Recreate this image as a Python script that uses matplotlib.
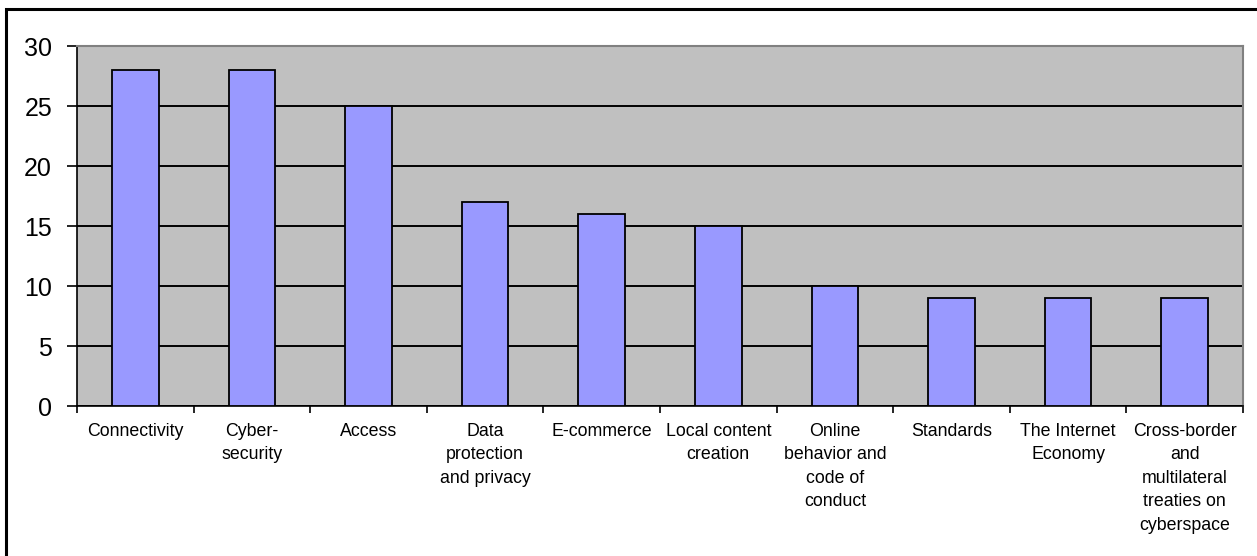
import matplotlib.pyplot as plt
from matplotlib.patches import Rectangle
import numpy as np

plt.rcParams['font.family'] = ['Liberation Sans', 'DejaVu Sans']

categories = ["Connectivity", "Cyber-\nsecurity", "Access", "Data\nprotection\nand privacy",
              "E-commerce", "Local content\ncreation", "Online\nbehavior and\ncode of\nconduct",
              "Standards", "The Internet\nEconomy",
              "Cross-border\nand\nmultilateral\ntreaties on\ncyberspace"]
values = [28, 28, 25, 17, 16, 15, 10, 9, 9, 9]

fig = plt.figure(figsize=(12.57, 5.56), dpi=100)
ax = fig.add_axes([77/1257, 1 - 406/556, (1243 - 77)/1257, (406 - 46)/556])

# outer frame of the chart object
fig.patches.append(Rectangle((6/1257, -0.01), 1.1, 1 - 8.5/556 + 0.01, transform=fig.transFigure,
                             fill=False, edgecolor='black', linewidth=2.2))

x = np.arange(len(categories))
ax.set_facecolor('#C0C0C0')
ax.set_axisbelow(True)
ax.yaxis.grid(True, color='black', linewidth=1.4)
ax.bar(x, values, width=0.40, color='#9999FF', edgecolor='black', linewidth=1.3, zorder=3)

ax.set_xlim(-0.5, len(categories) - 0.5)
ax.set_ylim(0, 30)
ax.set_yticks(range(0, 31, 5))
ax.tick_params(axis='y', labelsize=18, length=7, width=1.2, direction='out', pad=11)

ax.set_xticks(x)
ax.set_xticklabels(categories, fontsize=12.8, linespacing=1.5)
ax.tick_params(axis='x', which='major', length=0, pad=12)
ax.set_xticks(np.arange(-0.5, len(categories), 1.0), minor=True)
ax.tick_params(axis='x', which='minor', length=5, width=1.2, direction='out')

for s in ['top', 'right']:
    ax.spines[s].set_color('#808080')
    ax.spines[s].set_linewidth(1.5)
for s in ['left', 'bottom']:
    ax.spines[s].set_color('black')
    ax.spines[s].set_linewidth(1.2)

plt.savefig('out.png', dpi=100)
